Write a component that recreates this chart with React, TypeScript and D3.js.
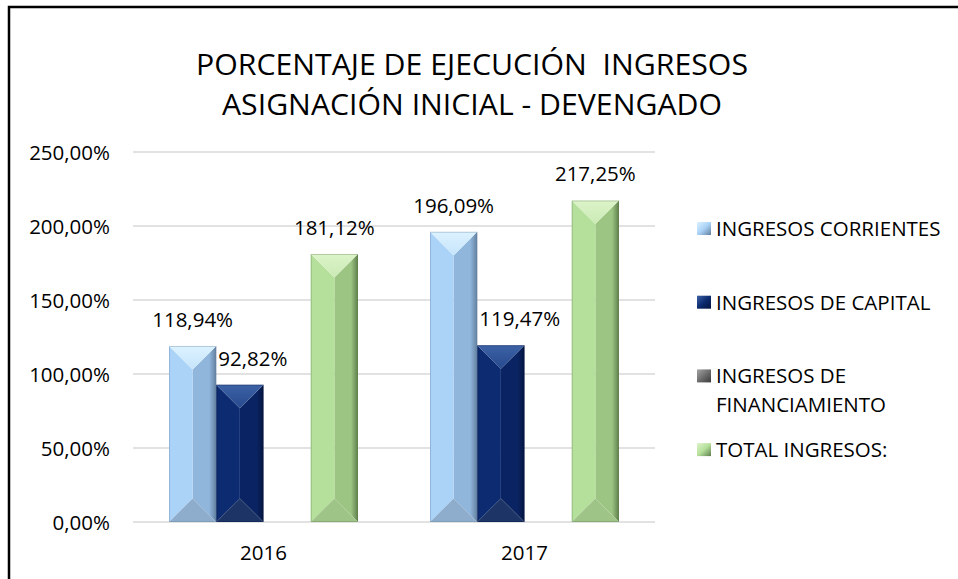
import React, { useRef, useEffect } from "react";
import * as d3 from "d3";

const categories = ["2016", "2017"];
const seriesNames = [
  "INGRESOS CORRIENTES",
  "INGRESOS DE CAPITAL",
  "INGRESOS DE FINANCIAMIENTO",
  "TOTAL INGRESOS:",
];
const corrientes = [118.94, 196.09];
const capital = [92.82, 119.47];
const financiamiento = [0, 0];
const total = [181.12, 217.25];
const yTicks = [0, 50, 100, 150, 200, 250];
const titleLines = ["PORCENTAJE DE EJECUCIÓN  INGRESOS", "ASIGNACIÓN INICIAL - DEVENGADO"];

// facet colours for the bevelled bars: top, left, right, rightEdge, bottom
const palettes = [
  { top: "#dcf2ff", left: "#abd2f7", right: "#90b6dc", edge: "#62809f", bottom: "#8eaccb" },
  { top: "#3d62a6", left: "#0c2b70", right: "#0a2463", edge: "#051540", bottom: "#1d3566" },
  { top: "#a5a5a5", left: "#6e6e6e", right: "#5c5c5c", edge: "#3a3a3a", bottom: "#606060" },
  { top: "#dcf3c9", left: "#b5e09b", right: "#9cc583", edge: "#5f7f4c", bottom: "#9fc488" },
];

const FONT = "'Open Sans', sans-serif";
const fmt = (v: number) => v.toFixed(2).replace(".", ",") + "%";

const App = () => {
  const svgRef = useRef<SVGSVGElement>(null);

  useEffect(() => {
    const width = 958;
    const height = 579;
    const svg = d3.select(svgRef.current).attr("width", width).attr("height", height);
    svg.selectAll("*").remove();

    const values = [corrientes, capital, financiamiento, total];

    // gradients
    const defs = svg.append("defs");
    palettes.forEach((p, i) => {
      const g = defs.append("linearGradient").attr("id", `right${i}`).attr("x1", "0").attr("x2", "1").attr("y1", "0").attr("y2", "0");
      g.append("stop").attr("offset", "0%").attr("stop-color", p.right);
      g.append("stop").attr("offset", "70%").attr("stop-color", p.right);
      g.append("stop").attr("offset", "100%").attr("stop-color", p.edge);
      const t = defs.append("linearGradient").attr("id", `top${i}`).attr("x1", "0").attr("x2", "0").attr("y1", "0").attr("y2", "1");
      t.append("stop").attr("offset", "0%").attr("stop-color", p.top);
      t.append("stop").attr("offset", "100%").attr("stop-color", d3.interpolateRgb(p.top, p.left)(0.45));
      const l = defs.append("linearGradient").attr("id", `leg${i}`).attr("x1", "0").attr("x2", "1").attr("y1", "0").attr("y2", "1");
      l.append("stop").attr("offset", "0%").attr("stop-color", p.top);
      l.append("stop").attr("offset", "50%").attr("stop-color", p.left);
      l.append("stop").attr("offset", "100%").attr("stop-color", p.edge);
    });

    // frame
    svg.append("path").attr("d", `M9,${height} V7 H${width}`).attr("fill", "none").attr("stroke", "#000").attr("stroke-width", 2.5);

    // title
    const titleWidths = [552, 500];
    titleLines.forEach((line, i) => {
      svg
        .append("text")
        .attr("x", 472)
        .attr("y", 74.5 + i * 40.5)
        .attr("text-anchor", "middle")
        .attr("textLength", titleWidths[i])
        .attr("lengthAdjust", "spacingAndGlyphs")
        .style("white-space", "pre")
        .style("font-family", FONT)
        .style("font-size", "29.5px")
        .style("fill", "#000")
        .text(line);
    });

    // scales
    const x0 = d3.scaleBand().domain(categories).range([133, 655]).paddingInner(0.276).paddingOuter(0.138);
    const x1 = d3.scaleBand().domain(seriesNames).range([0, x0.bandwidth()]);
    const y = d3.scaleLinear().domain([0, 250]).range([522, 152]);

    // gridlines
    svg
      .append("g")
      .selectAll("line")
      .data(yTicks)
      .enter()
      .append("line")
      .attr("x1", 133)
      .attr("x2", 655)
      .attr("y1", (d) => y(d))
      .attr("y2", (d) => y(d))
      .attr("stroke", "#d9d9d9")
      .attr("stroke-width", 1.5);

    // y tick labels
    svg
      .append("g")
      .selectAll("text")
      .data(yTicks)
      .enter()
      .append("text")
      .attr("x", 110)
      .attr("y", (d) => y(d) + 7.5)
      .attr("text-anchor", "end")
      .style("font-family", FONT)
      .style("font-size", "20.5px")
      .text((d) => d.toFixed(2).replace(".", ",") + "%");

    // x labels
    svg
      .append("g")
      .selectAll("text")
      .data(categories)
      .enter()
      .append("text")
      .attr("x", (d) => (x0(d) as number) + x0.bandwidth() / 2)
      .attr("y", 560)
      .attr("text-anchor", "middle")
      .style("font-family", FONT)
      .style("font-size", "20.5px")
      .text((d) => d);

    // bars
    const barsG = svg.append("g");
    const labelsG = svg.append("g");
    categories.forEach((cat, ci) => {
      let prev: { right: number; top: number } | null = null;
      seriesNames.forEach((s, si) => {
        const v = values[si][ci];
        const bx = (x0(cat) as number) + (x1(s) as number);
        const w = x1.bandwidth();
        const yt = y(v);
        const yb = y(0);
        const h = yb - yt;
        if (h > 0) {
          const cx = bx + w / 2;
          const dv = Math.min(w / 2, h / 2);
          const g = barsG.append("g");
          const poly = (pts: number[][], fill: string) =>
            g.append("polygon").attr("points", pts.map((p) => p.join(",")).join(" ")).attr("fill", fill);
          poly([[cx, yt + dv], [bx + w, yt], [bx + w, yb], [cx, yb - dv]], `url(#right${si})`);
          poly([[bx, yt], [cx, yt + dv], [cx, yb - dv], [bx, yb]], palettes[si].left);
          poly([[bx, yb], [bx + w, yb], [cx, yb - dv]], palettes[si].bottom);
          poly([[bx, yt], [bx + w, yt], [cx, yt + dv]], `url(#top${si})`);
          g.append("rect")
            .attr("x", bx + 0.5)
            .attr("y", yt + 0.5)
            .attr("width", w - 1)
            .attr("height", h - 1)
            .attr("fill", "none")
            .attr("stroke", palettes[si].edge)
            .attr("stroke-opacity", 0.35)
            .attr("stroke-width", 1);

          const t = labelsG
            .append("text")
            .attr("x", cx)
            .attr("y", yt - 19)
            .attr("text-anchor", "middle")
            .style("font-family", FONT)
            .style("font-size", "20.5px")
            .text(fmt(v));
          const tw = (t.node() as SVGTextElement).getComputedTextLength();
          // nudge right if the label would sit over the previous, taller bar
          if (prev && cx - tw / 2 < prev.right && yt - 19 > prev.top) {
            t.attr("x", prev.right + 2 + tw / 2);
          }
          prev = { right: bx + w, top: yt };
        }
      });
    });

    // legend
    const legend = svg.append("g");
    seriesNames.forEach((s, i) => {
      const base = 236 + i * 73.7;
      legend
        .append("rect")
        .attr("x", 697)
        .attr("y", base - 14)
        .attr("width", 14)
        .attr("height", 13)
        .attr("fill", `url(#leg${i})`);
      const words = s.split(" ");
      const lines: string[] = [];
      let cur = "";
      const probe = legend.append("text").style("font-family", FONT).style("font-size", "20.5px");
      words.forEach((wd) => {
        const test = cur ? cur + " " + wd : wd;
        probe.text(test);
        if ((probe.node() as SVGTextElement).getComputedTextLength() > 236 && cur) {
          lines.push(cur);
          cur = wd;
        } else cur = test;
      });
      lines.push(cur);
      probe.remove();
      lines.forEach((ln, li) => {
        legend
          .append("text")
          .attr("x", 716)
          .attr("y", base + li * 29)
          .style("font-family", FONT)
          .style("font-size", "20.5px")
          .text(ln);
      });
    });
  }, []);

  return (
    <div>
      <svg ref={svgRef} style={{ position: "absolute", left: 0, top: 0, background: "#fff" }}></svg>
    </div>
  );
};

export default App;
